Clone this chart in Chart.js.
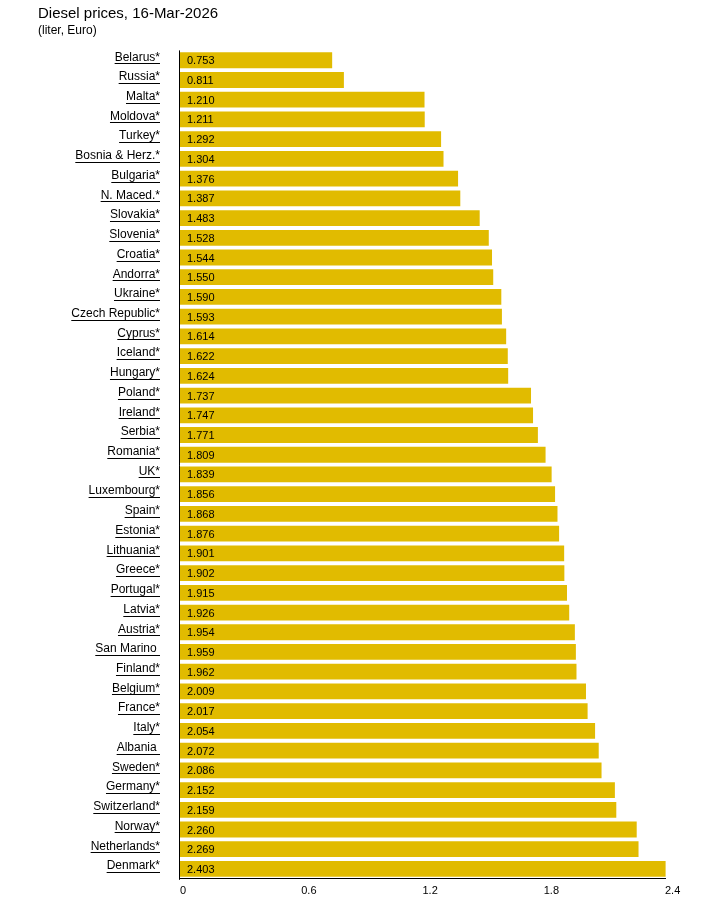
<!DOCTYPE html>
<html>
<head>
<meta charset="utf-8">
<script src="https://cdn.jsdelivr.net/npm/chart.js@4.4.1/dist/chart.umd.min.js"></script>
<style>
  html, body { margin: 0; padding: 0; background: #fff; }
  #wrap { width: 719px; height: 906px; }
</style>
</head>
<body>
<div id="wrap"><canvas id="diesel"></canvas></div>
<script>
const countries = [
    'Belarus*', 'Russia*', 'Malta*', 'Moldova*', 'Turkey*', 'Bosnia & Herz.*',
    'Bulgaria*', 'N. Maced.*', 'Slovakia*', 'Slovenia*', 'Croatia*', 'Andorra*',
    'Ukraine*', 'Czech Republic*', 'Cyprus*', 'Iceland*', 'Hungary*', 'Poland*',
    'Ireland*', 'Serbia*', 'Romania*', 'UK*', 'Luxembourg*', 'Spain*', 'Estonia*',
    'Lithuania*', 'Greece*', 'Portugal*', 'Latvia*', 'Austria*', 'San Marino ',
    'Finland*', 'Belgium*', 'France*', 'Italy*', 'Albania ', 'Sweden*', 'Germany*',
    'Switzerland*', 'Norway*', 'Netherlands*', 'Denmark*'
];
const prices = [
    0.753, 0.811, 1.210, 1.211, 1.292, 1.304,
    1.376, 1.387, 1.483, 1.528, 1.544, 1.550,
    1.590, 1.593, 1.614, 1.622, 1.624, 1.737,
    1.747, 1.771, 1.809, 1.839, 1.856, 1.868, 1.876,
    1.901, 1.902, 1.915, 1.926, 1.954, 1.959,
    1.962, 2.009, 2.017, 2.054, 2.072, 2.086, 2.152,
    2.159, 2.260, 2.269, 2.403
];
const xTicks = ['0', '0.6', '1.2', '1.8', '2.4'];

const FONT = 'Arial, "Liberation Sans", sans-serif';

// values inside the bars, underlined country names, y axis line on top of bars
const barText = {
    id: 'barText',
    afterDraw(chart) {
        const ctx = chart.ctx;
        const meta = chart.getDatasetMeta(0);
        const area = chart.chartArea;
        const yScale = chart.scales.y;
        ctx.save();
        ctx.font = '11px ' + FONT;
        ctx.fillStyle = '#000';
        ctx.textBaseline = 'middle';
        ctx.textAlign = 'left';
        meta.data.forEach((bar, i) => {
            ctx.fillText(prices[i].toFixed(3), area.left + 7, bar.y + 1);
        });

        ctx.font = '12px ' + FONT;
        ctx.strokeStyle = '#000';
        ctx.lineWidth = 1;
        const right = area.left - 20;
        countries.forEach((c, i) => {
            const y = Math.round(yScale.getPixelForTick(i) + 3) + 0.5;
            const w = ctx.measureText(c).width;
            ctx.beginPath();
            ctx.moveTo(right - w, y);
            ctx.lineTo(right, y);
            ctx.stroke();
        });

        const x = Math.round(area.left) - 0.5;
        ctx.beginPath();
        ctx.moveTo(x, area.top);
        ctx.lineTo(x, area.bottom + 1);
        ctx.stroke();
        ctx.restore();
    }
};

new Chart(document.getElementById('diesel'), {
    type: 'bar',
    data: {
        labels: countries,
        datasets: [{
            data: prices,
            backgroundColor: '#e1bb00',
            barPercentage: 0.8,
            categoryPercentage: 1,
            clip: false
        }]
    },
    options: {
        indexAxis: 'y',
        responsive: true,
        maintainAspectRatio: false,
        animation: false,
        layout: {
            padding: { left: 38, right: 54, top: 0, bottom: 6 }
        },
        plugins: {
            legend: { display: false },
            tooltip: { enabled: false },
            title: {
                display: true,
                text: 'Diesel prices, 16-Mar-2026',
                align: 'start',
                color: '#000',
                font: { family: FONT, size: 15, weight: 'normal' },
                padding: { top: 5, bottom: 0 }
            },
            subtitle: {
                display: true,
                text: '(liter, Euro)',
                align: 'start',
                color: '#000',
                font: { family: FONT, size: 12 },
                padding: { top: 0, bottom: 13 }
            }
        },
        scales: {
            y: {
                afterFit(scale) { scale.width = 142; },
                border: { display: false },
                grid: { display: false, drawTicks: false },
                ticks: {
                    color: '#000',
                    padding: 20,
                    labelOffset: -3,
                    autoSkip: false,
                    font: { family: FONT, size: 12 }
                }
            },
            x: {
                min: 0,
                max: 2.4,
                border: { display: true, color: '#000', width: 1 },
                grid: { display: false, drawOnChartArea: false, drawTicks: true, tickLength: 4, tickColor: '#000' },
                ticks: {
                    stepSize: 0.6,
                    align: 'start',
                    maxRotation: 0,
                    padding: 2,
                    color: '#000',
                    font: { family: FONT, size: 11 },
                    callback: (v, i) => xTicks[i]
                }
            }
        }
    },
    plugins: [barText]
});
</script>
</body>
</html>
